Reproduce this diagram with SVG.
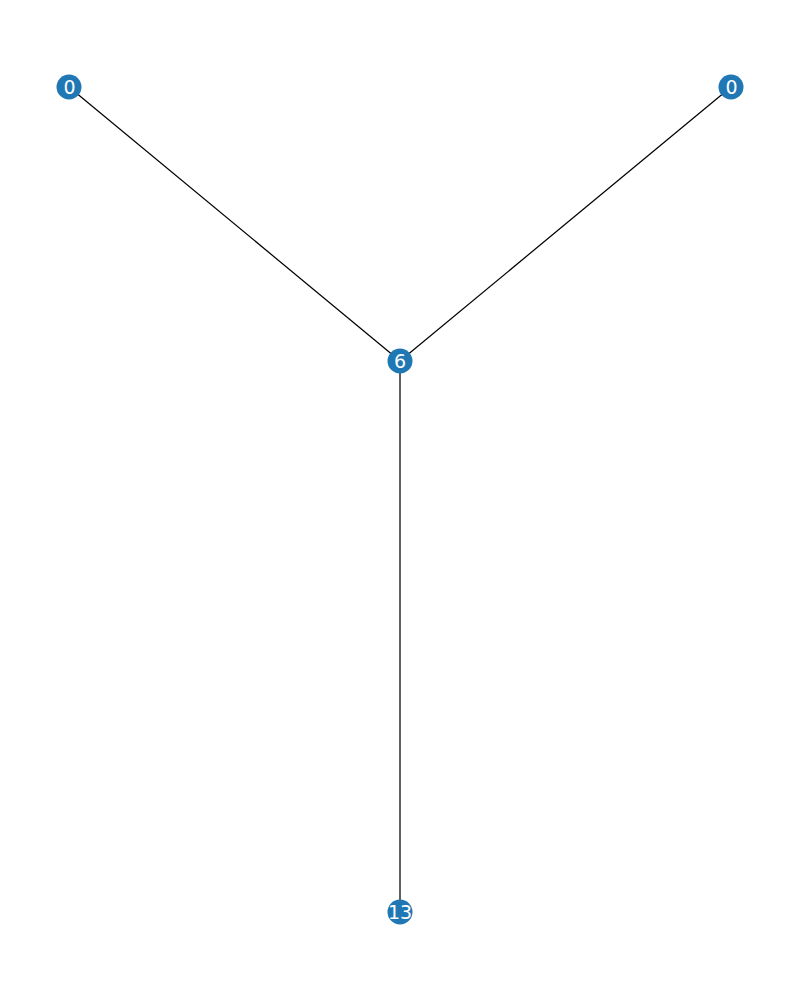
<svg xmlns="http://www.w3.org/2000/svg" width="800" height="1000" viewBox="0 0 800 1000">
<style>
.edge{stroke:#000;stroke-width:1.25;fill:none}
.node circle{fill:#1f77b4}
.node text{fill:#fff;font-family:"DejaVu Sans",sans-serif;font-size:19px;text-anchor:middle;dominant-baseline:central}
</style>
<rect width="800" height="1000" fill="#fff"/>
<g id="edges">
<line class="edge" x1="69" y1="87" x2="400" y2="361"/>
<line class="edge" x1="731" y1="87" x2="400" y2="361"/>
<line class="edge" x1="400" y1="361" x2="400" y2="912"/>
</g>
<g id="node-a" class="node"><circle cx="69" cy="87" r="12.5"/><text x="69.5" y="87">0</text></g>
<g id="node-b" class="node"><circle cx="731" cy="87" r="12.5"/><text x="731.5" y="87">0</text></g>
<g id="node-c" class="node"><circle cx="400" cy="361" r="12.5"/><text x="400" y="361">6</text></g>
<g id="node-d" class="node"><circle cx="400" cy="912" r="12.5"/><text x="400" y="912">13</text></g>
</svg>
